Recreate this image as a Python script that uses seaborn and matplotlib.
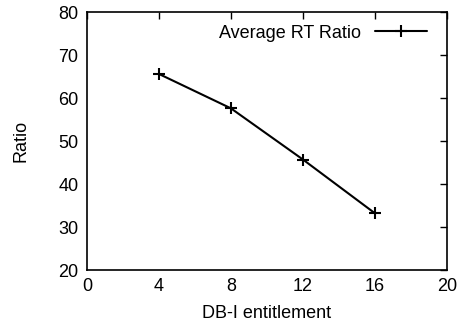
import matplotlib
matplotlib.use("Agg")
import matplotlib.pyplot as plt
import seaborn as sns
import pandas as pd

entitlement = [4, 8, 12, 16]
ratio = [65.6, 57.6, 45.7, 33.2]
x_ticks = [0, 4, 8, 12, 16, 20]
y_ticks = [20, 30, 40, 50, 60, 70, 80]
series_name = "Average RT Ratio"

sns.set_theme(style="white")
plt.rcParams['font.family'] = ['Liberation Sans', 'DejaVu Sans']

df = pd.DataFrame({"x": entitlement, "y": ratio, "s": series_name})

fig = plt.figure(figsize=(4.7, 3.25), dpi=100)
ax = fig.add_axes([0.185, 0.169, 0.766, 0.794])
sns.lineplot(data=df, x="x", y="y", hue="s", palette=["black"], marker="+",
             markersize=8, markeredgewidth=1.5, markeredgecolor="black",
             linewidth=1.5, ax=ax)

ax.set_xlim(0, 20)
ax.set_ylim(20, 80)
ax.set_xticks(x_ticks)
ax.set_yticks(y_ticks)
ax.tick_params(direction="in", top=True, right=True, length=5, width=1,
               labelsize=13, colors="black", pad=6)
for sp in ax.spines.values():
    sp.set_color("black")
    sp.set_linewidth(1.2)
ax.set_xlabel("DB-I entitlement", fontsize=13, color="black", labelpad=7)
ax.set_ylabel("Ratio", fontsize=13, color="black", labelpad=21)

leg = ax.legend(loc="upper right", bbox_to_anchor=(0.98, 1.0), frameon=False,
                markerfirst=False, fontsize=13, handlelength=2.9,
                borderaxespad=0.3, handletextpad=0.75, labelcolor="black")

fig.savefig("out.png", dpi=100)
